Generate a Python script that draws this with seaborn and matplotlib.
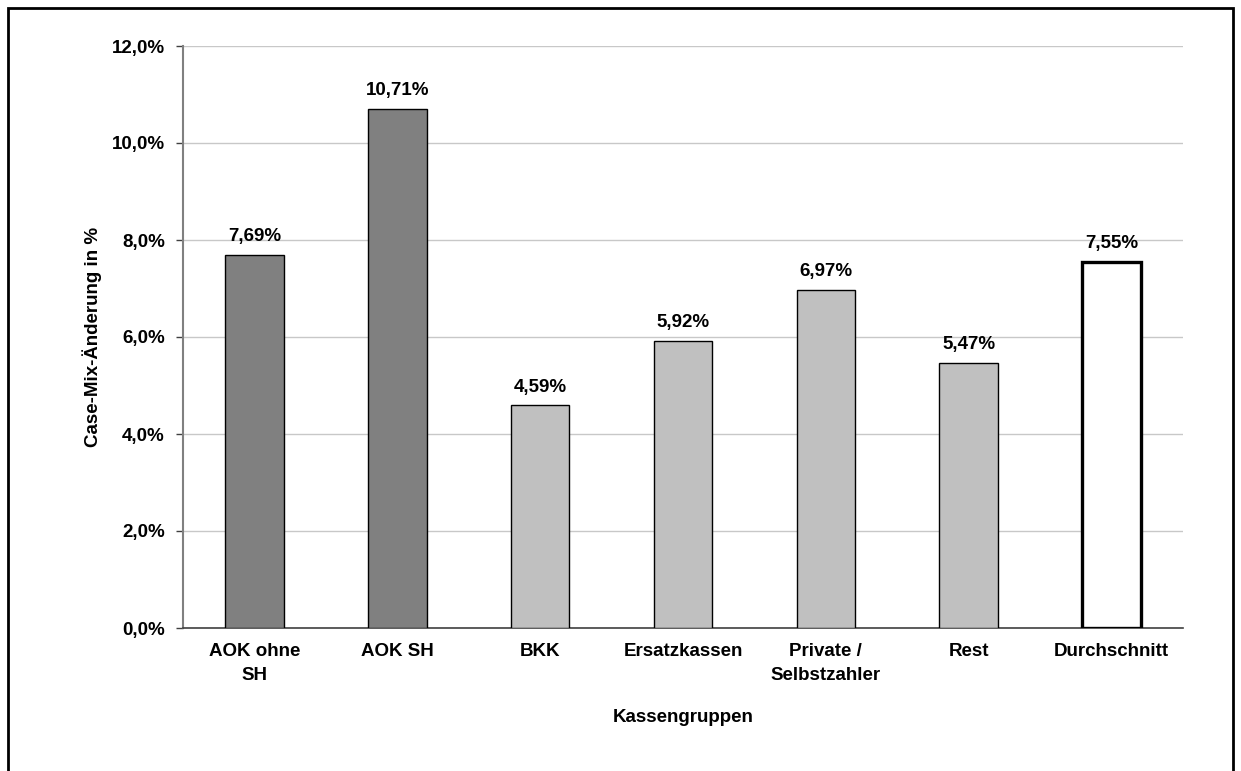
import numpy as np
import pandas as pd
import matplotlib
matplotlib.use("Agg")
import matplotlib.pyplot as plt
import seaborn as sns
from matplotlib.patches import Rectangle

# Data
categories = ["AOK ohne\nSH", "AOK SH", "BKK", "Ersatzkassen", "Private /\nSelbstzahler", "Rest", "Durchschnitt"]
values = [7.69, 10.71, 4.59, 5.92, 6.97, 5.47, 7.55]
bar_colors = ["#808080", "#808080", "#C0C0C0", "#C0C0C0", "#C0C0C0", "#C0C0C0", "#FFFFFF"]
y_ticks = [0, 2, 4, 6, 8, 10, 12]

df = pd.DataFrame({"Kasse": categories, "Wert": values})

sns.set_theme(style="white")
plt.rcParams["font.family"] = ["Liberation Sans", "DejaVu Sans"]
plt.rcParams["font.weight"] = "bold"
plt.rcParams["text.color"] = "black"
plt.rcParams["axes.labelcolor"] = "black"
plt.rcParams["xtick.color"] = "black"
plt.rcParams["ytick.color"] = "black"

FS = 13.5

fig = plt.figure(figsize=(12.41, 7.71), dpi=100)
ax = fig.add_axes([183 / 1241, 1 - 628 / 771, 1000 / 1241, 582 / 771])

sns.barplot(data=df, x="Kasse", y="Wert", hue="Kasse", palette=bar_colors,
            width=0.41, legend=False, ax=ax, saturation=1)

# edges: thin black, thick for the average bar
for i, p in enumerate(ax.patches):
    p.set_edgecolor("black")
    p.set_linewidth(2.4 if i == len(values) - 1 else 1.0)
    p.set_zorder(3)

# value labels
for i, v in enumerate(values):
    ax.annotate(f"{v:.2f}%".replace(".", ","), (i, v), xytext=(0, 7),
                textcoords="offset points", ha="center", va="bottom",
                fontsize=FS, fontweight="bold")

ax.set_ylim(0, 12)
ax.set_xlim(-0.5, len(values) - 0.5)
ax.set_yticks(y_ticks)
ax.set_yticklabels([f"{t:.1f}%".replace(".", ",") for t in y_ticks], fontsize=FS, fontweight="bold")
ax.set_xticks(range(len(values)))
ax.set_xticklabels(categories, fontsize=FS, fontweight="bold", linespacing=1.55)
ax.set_xticks(np.arange(-0.5, len(values)), minor=True)
ax.tick_params(axis="x", which="major", length=0, pad=11)
ax.tick_params(axis="x", which="minor", length=6, width=1, color="#404040", direction="out")
ax.tick_params(axis="y", length=5, width=1, color="#404040", direction="out", left=True, pad=8)

ax.yaxis.grid(True, color="#C8C8C8", linewidth=1)
ax.set_axisbelow(True)

for s in ["top", "right"]:
    ax.spines[s].set_visible(False)
ax.spines["left"].set_color("#808080")
ax.spines["left"].set_linewidth(1.5)
ax.spines["bottom"].set_color("#404040")
ax.spines["bottom"].set_linewidth(1.2)

ax.set_xlabel("Kassengruppen", fontsize=FS, fontweight="bold", labelpad=18)
ax.set_ylabel("Case-Mix-Änderung in %", fontsize=FS, fontweight="bold", labelpad=7)

# outer frame of the picture (bottom edge lies below the image)
fig.patches.append(Rectangle((8 / 1241, -0.05), 1225 / 1241, 1.05 - 8 / 771,
                             transform=fig.transFigure, fill=False,
                             edgecolor="black", linewidth=2))

fig.savefig("out.png", dpi=100)
